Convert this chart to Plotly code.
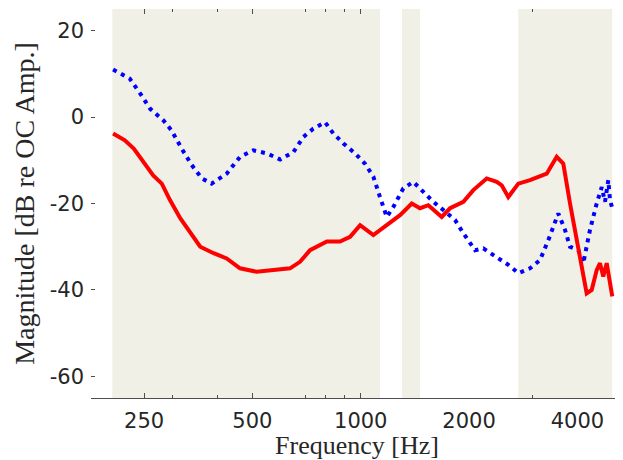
import plotly.graph_objects as go

# ---- data ----
freq_blue = [205, 228, 244, 260, 283, 298, 318, 339, 362, 385, 424, 462, 503, 548, 597,
             650, 693, 738, 796, 839, 895, 964, 1028, 1084, 1131, 1181, 1232, 1313, 1400,
             1493, 1591, 1696, 1828, 1928, 2078, 2191, 2387, 2571, 2741, 2954, 3149, 3320,
             3540, 3695, 3815, 4023, 4154, 4336, 4526, 4674, 4773, 4875, 4928, 5000]
mag_blue = [11.0, 8.9, 5.4, 1.9, -0.8, -3.1, -7.3, -11.1, -14.2, -15.4, -13.1, -9.2, -7.7,
            -8.4, -9.8, -8.1, -4.6, -2.7, -1.2, -3.8, -6.1, -8.4, -10.8, -13.8, -18.5, -23.1,
            -20.8, -16.5, -15.0, -17.3, -19.6, -21.5, -23.8, -26.9, -30.8, -30.4, -32.3,
            -34.2, -36.1, -35.0, -33.1, -28.5, -22.3, -26.1, -30.0, -30.8, -33.8, -26.1,
            -20.0, -16.2, -19.6, -14.6, -19.2, -21.1]

freq_red = [205, 221, 234, 249, 265, 280, 295, 315, 336, 358, 390, 424, 462, 514, 572, 636,
            678, 723, 805, 876, 934, 996, 1084, 1181, 1286, 1386, 1461, 1541, 1679, 1771,
            1928, 2055, 2239, 2387, 2465, 2571, 2741, 2954, 3115, 3287, 3504, 3655, 3816,
            3982, 4154, 4245, 4383, 4526, 4622, 4720, 4825, 4905, 5000]
mag_red = [-3.8, -5.4, -7.3, -10.4, -13.5, -15.4, -19.2, -23.4, -26.9, -30.0, -31.5, -32.7,
           -35.0, -35.8, -35.4, -35.0, -33.5, -30.8, -28.8, -28.8, -27.7, -25.0, -27.3, -25.0,
           -22.7, -20.0, -21.1, -20.4, -23.1, -21.1, -19.6, -16.9, -14.2, -15.0, -15.8, -18.5,
           -15.4, -14.6, -13.8, -13.1, -9.2, -10.8, -20.0, -28.5, -37.7, -40.8, -40.0, -35.4,
           -33.8, -36.9, -33.8, -37.7, -41.5]

shade_start = [204, 1302, 2741]
shade_end = [1131, 1461, 5000]

x_tick_vals = [250, 500, 1000, 2000, 4000]
x_tick_text = ["250", "500", "1000", "2000", "4000"]
x_major_marks = [250, 500, 1000]
x_minor_marks = [300, 400, 700, 800, 900, 3000]
y_tick_vals = [-60, -40, -20, 0, 20]

x_range_log = [2.2504, 3.7288]
y_range = [-65, 25]

# ---- figure ----
fig = go.Figure()

for s, e in zip(shade_start, shade_end):
    fig.add_vrect(x0=s, x1=e, fillcolor="#F1F0E7", opacity=1, line_width=0, layer="below")

fig.add_trace(go.Scatter(x=freq_blue, y=mag_blue, mode="lines",
                         line=dict(color="#0000FF", width=4, dash="4px,5px"),
                         hoverinfo="skip", showlegend=False))
fig.add_trace(go.Scatter(x=freq_red, y=mag_red, mode="lines",
                         line=dict(color="#FF0000", width=4),
                         hoverinfo="skip", showlegend=False))
# empty trace to activate the tick-only overlay axis
fig.add_trace(go.Scatter(x=[], y=[], xaxis="x2", yaxis="y", showlegend=False, hoverinfo="skip"))

tick_font = dict(family="DejaVu Sans", size=21, color="#262626")
xtitle_font = dict(family="Liberation Serif", size=26, color="#262626")
ytitle_font = dict(family="Liberation Serif", size=28, color="#262626")

# the page body adds an 8px margin, so the figure is sized/margined to compensate
fig.update_layout(
    width=615, height=452,
    margin=dict(l=83, r=0, t=1, b=62),
    paper_bgcolor="white", plot_bgcolor="white",
    showlegend=False,
    xaxis=dict(type="log", range=x_range_log, tickmode="array",
               tickvals=x_tick_vals, ticktext=x_tick_text, ticks="",
               showline=True, linecolor="#4d4d4d", linewidth=1,
               showgrid=False, zeroline=False, tickfont=tick_font,
               ticklabelstandoff=4, automargin=False,
               title=dict(text="Frequency [Hz]", font=xtitle_font, standoff=12)),
    xaxis2=dict(type="log", range=x_range_log, overlaying="x", side="bottom", anchor="y",
                tickmode="array", tickvals=x_major_marks, ticks="inside", ticklen=5,
                tickcolor="#4d4d4d", tickwidth=1,
                minor=dict(tickmode="array", tickvals=x_minor_marks, ticks="inside",
                           ticklen=3, tickcolor="#4d4d4d", tickwidth=1),
                mirror="ticks", showline=False, showticklabels=False,
                showgrid=False, zeroline=False, automargin=False),
    yaxis=dict(range=y_range, tickmode="array", tickvals=y_tick_vals,
               ticktext=[str(v) for v in y_tick_vals],
               ticks="inside", ticklen=4, tickcolor="#4d4d4d", tickwidth=1,
               showline=False, showgrid=False, zeroline=False, tickfont=tick_font,
               ticklabelstandoff=6, automargin=False,
               title=dict(text="Magnitude [dB re OC Amp.]", font=ytitle_font, standoff=6)),
)

fig.write_html("out.html")
